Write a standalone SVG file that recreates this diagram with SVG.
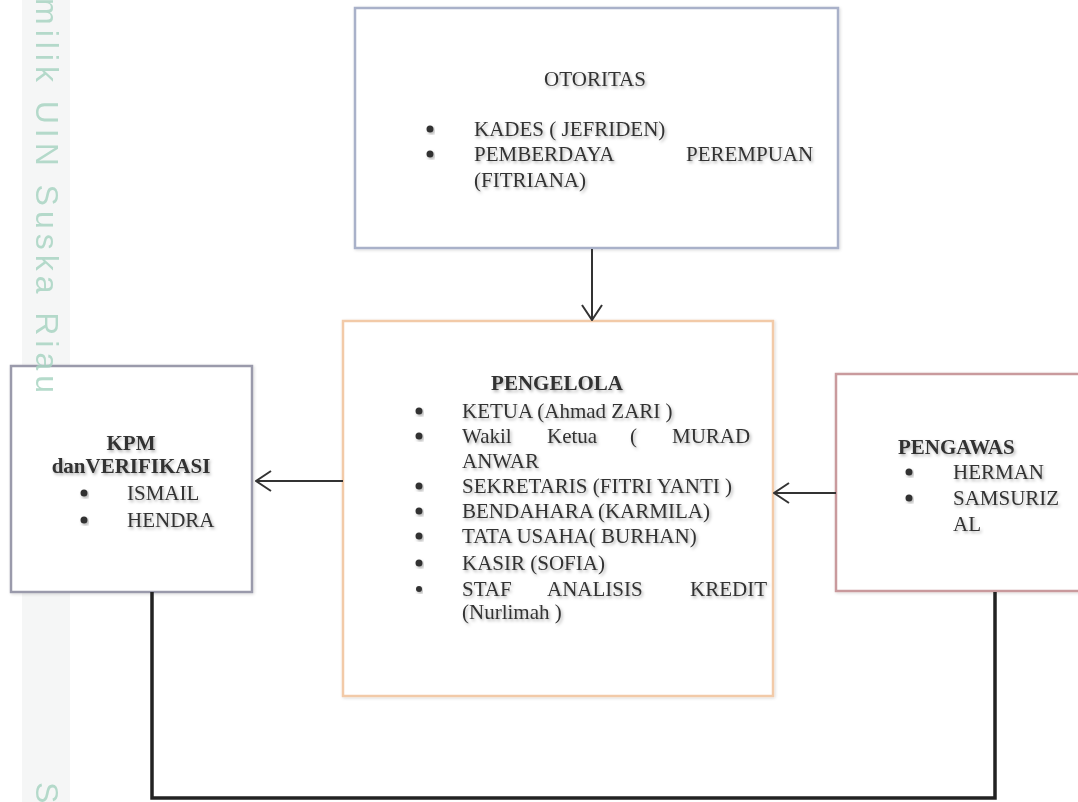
<svg xmlns="http://www.w3.org/2000/svg" width="1078" height="802" viewBox="0 0 1078 802">
<defs>
<style>
.t{font-family:"Liberation Serif","Times New Roman",serif;font-size:21px;fill:#333;filter:url(#sh)}
.b{font-weight:bold}
.box{fill:#fff;stroke-width:2.5}
.dot{fill:#333;filter:url(#sh)}
.wm{font-family:"Liberation Sans",Arial,sans-serif;font-size:32px;fill:#a9d5c3;opacity:0.85}
.conn{stroke:#333;stroke-width:2;fill:none}
.loop{stroke:#222;stroke-width:3.5;fill:none}
</style>
<filter id="sh" x="-10%" y="-30%" width="120%" height="160%">
<feDropShadow dx="1.5" dy="2" stdDeviation="1.5" flood-color="#000" flood-opacity="0.3"/>
</filter>
<filter id="bs" x="-5%" y="-5%" width="110%" height="110%">
<feDropShadow dx="1" dy="1" stdDeviation="1.5" flood-color="#000" flood-opacity="0.15"/>
</filter>
<marker id="ah" viewBox="0 0 17 22" refX="16" refY="11" markerWidth="17" markerHeight="22" markerUnits="userSpaceOnUse" orient="auto">
<path d="M1,1 L16,11 L1,21" fill="none" stroke="#333" stroke-width="2"/>
</marker>
</defs>
<rect x="0" y="0" width="1078" height="802" fill="#fff"/>
<rect x="22" y="0" width="48" height="802" fill="#f5f6f6"/>
<g id="otoritas">
<rect class="box" x="355" y="8" width="483" height="240" stroke="#a9b1c9" filter="url(#bs)"/>
<text class="t" x="595" y="86" text-anchor="middle">OTORITAS</text>
<circle class="dot" cx="430" cy="129" r="3.5"/>
<text class="t" x="474" y="136">KADES ( JEFRIDEN)</text>
<circle class="dot" cx="430" cy="154" r="3.5"/>
<text class="t" y="161"><tspan x="474">PEMBERDAYA</tspan><tspan x="686">PEREMPUAN</tspan></text>
<text class="t" x="474" y="187">(FITRIANA)</text>
</g>
<g id="pengelola">
<rect class="box" x="343" y="321" width="430" height="375" stroke="#f2caa8" stroke-width="3" filter="url(#bs)"/>
<text class="t b" x="557" y="390" text-anchor="middle">PENGELOLA</text>
<circle class="dot" cx="419" cy="411" r="3.5"/>
<text class="t" x="462" y="418">KETUA (Ahmad ZARI )</text>
<circle class="dot" cx="419" cy="436" r="3.5"/>
<text class="t" y="443"><tspan x="462">Wakil</tspan><tspan x="547">Ketua</tspan><tspan x="630">(</tspan><tspan x="672">MURAD</tspan></text>
<text class="t" x="462" y="468">ANWAR</text>
<circle class="dot" cx="419" cy="486" r="3.5"/>
<text class="t" x="462" y="493">SEKRETARIS (FITRI YANTI )</text>
<circle class="dot" cx="419" cy="511" r="3.5"/>
<text class="t" x="462" y="518">BENDAHARA (KARMILA)</text>
<circle class="dot" cx="419" cy="536" r="3.5"/>
<text class="t" x="462" y="543">TATA USAHA( BURHAN)</text>
<circle class="dot" cx="419" cy="563" r="3.5"/>
<text class="t" x="462" y="570">KASIR (SOFIA)</text>
<circle class="dot" cx="419" cy="589" r="3" fill="#555"/>
<text class="t" y="596" fill="#555"><tspan x="462">STAF</tspan><tspan x="547">ANALISIS</tspan><tspan x="690">KREDIT</tspan></text>
<text class="t" x="462" y="619" fill="#555">(Nurlimah )</text>
</g>
<g id="kpm">
<rect class="box" x="11" y="366" width="241" height="226" stroke="#9a9aab" filter="url(#bs)"/>
<text class="t b" x="131" y="450" text-anchor="middle">KPM</text>
<text class="t b" x="131" y="473" text-anchor="middle">danVERIFIKASI</text>
<circle class="dot" cx="84" cy="493" r="3.5"/>
<text class="t" x="127" y="500">ISMAIL</text>
<circle class="dot" cx="84" cy="520" r="3.5"/>
<text class="t" x="127" y="527">HENDRA</text>
</g>
<g id="pengawas">
<rect class="box" x="836" y="374" width="260" height="217" stroke="#c99a9d" filter="url(#bs)"/>
<text class="t b" x="898" y="454">PENGAWAS</text>
<circle class="dot" cx="909" cy="472" r="3.5"/>
<text class="t" x="953" y="479">HERMAN</text>
<circle class="dot" cx="909" cy="498" r="3.5"/>
<text class="t" x="953" y="505">SAMSURIZ</text>
<text class="t" x="953" y="531">AL</text>
</g>
<g id="connectors">
<line class="conn" x1="592" y1="249" x2="592" y2="320" marker-end="url(#ah)"/>
<line class="conn" x1="343" y1="481" x2="256" y2="481" marker-end="url(#ah)"/>
<line class="conn" x1="836" y1="493" x2="774" y2="493" marker-end="url(#ah)"/>
<polyline class="loop" points="152,592 152,798 995,798 995,592"/>
</g>
<g id="watermark">
<text class="wm" transform="translate(36,-2) rotate(90)" textLength="395" lengthAdjust="spacing">milik UIN Suska Riau</text>
<text class="wm" transform="translate(36,782) rotate(90)">S</text>
</g>
</svg>
